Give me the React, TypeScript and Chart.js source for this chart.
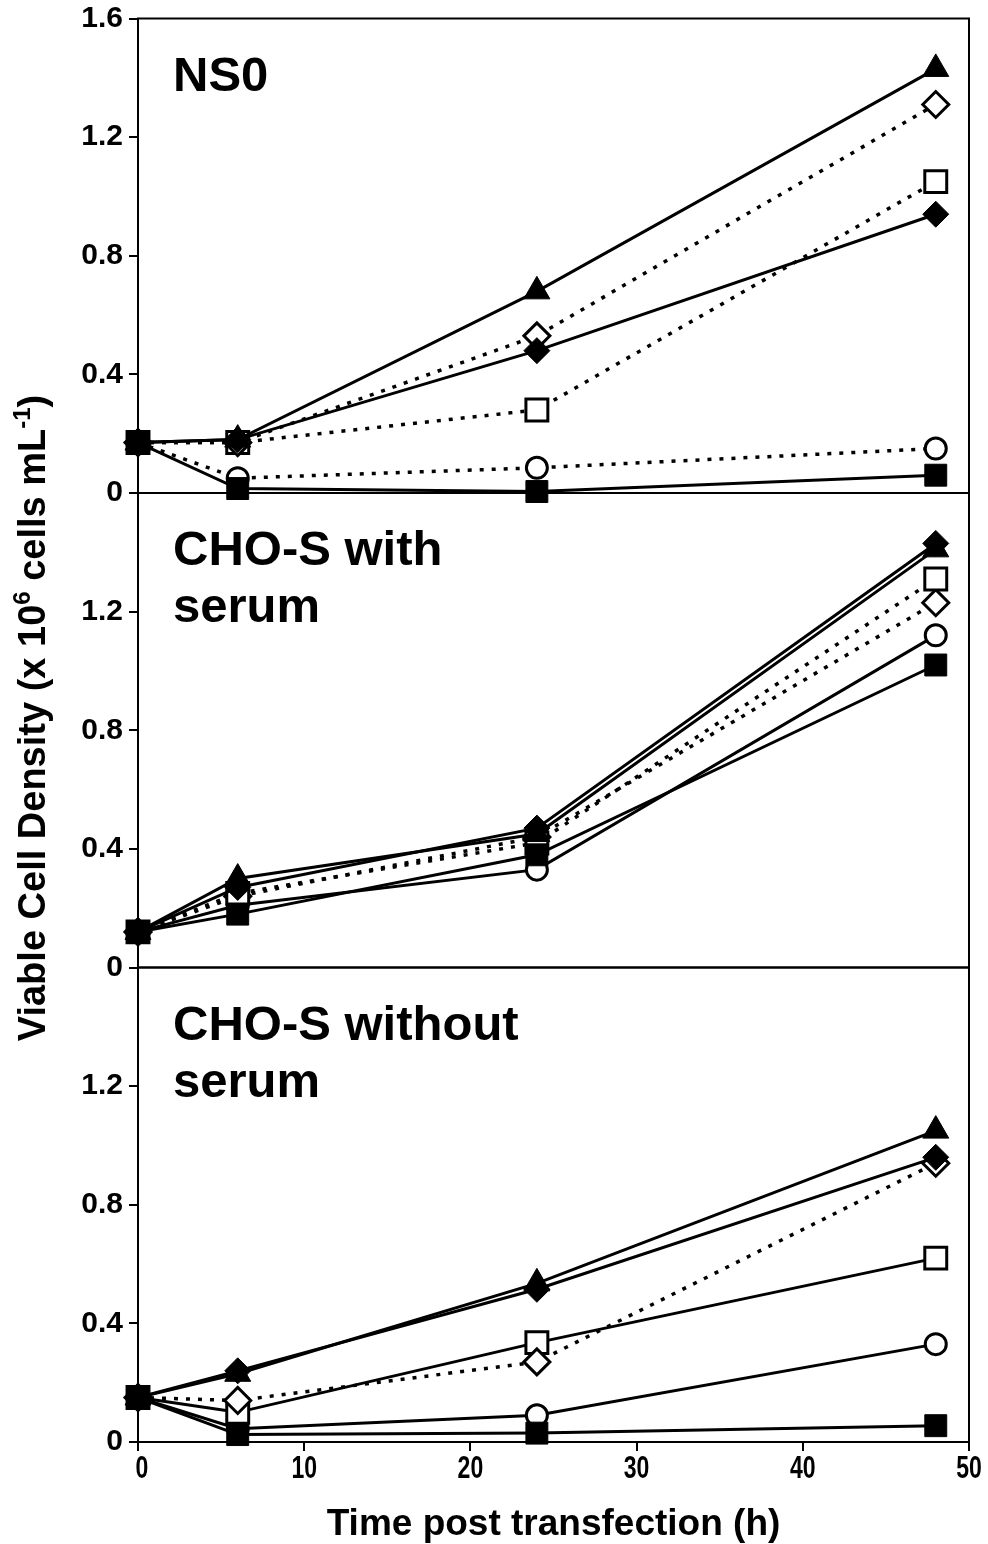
import React, { useEffect, useRef } from 'react';
import { Chart, registerables } from 'chart.js';

Chart.register(...registerables);

// Sampling times (hours after transfection)
const TIME_H = [0, 6, 24, 48];
const X_TICKS = [0, 10, 20, 30, 40, 50];
const Y_TICKS = [0, 0.4, 0.8, 1.2, 1.6];

const PANEL_TITLES = [['NS0'], ['CHO-S with', 'serum'], ['CHO-S without', 'serum']];
const X_TITLE = 'Time post transfection (h)';
const Y_TITLE_PARTS = [
  { text: 'Viable Cell Density (x 10', sup: false },
  { text: '6', sup: true },
  { text: ' cells mL', sup: false },
  { text: '-1', sup: true },
  { text: ')', sup: false },
];

// NS0 (x 10^6 cells/mL)
const NS0_FILLED_TRIANGLE = [0.17, 0.18, 0.68, 1.43];
const NS0_OPEN_DIAMOND = [0.17, 0.17, 0.53, 1.31];
const NS0_OPEN_SQUARE = [0.17, 0.17, 0.28, 1.05];
const NS0_FILLED_DIAMOND = [0.17, 0.18, 0.48, 0.94];
const NS0_OPEN_CIRCLE = [0.17, 0.05, 0.085, 0.15];
const NS0_FILLED_SQUARE = [0.17, 0.015, 0.005, 0.06];

// CHO-S with serum
const SERUM_FILLED_TRIANGLE = [0.12, 0.3, 0.45, 1.41];
const SERUM_FILLED_DIAMOND = [0.12, 0.27, 0.47, 1.43];
const SERUM_OPEN_SQUARE = [0.12, 0.25, 0.42, 1.31];
const SERUM_OPEN_DIAMOND = [0.12, 0.24, 0.44, 1.23];
const SERUM_OPEN_CIRCLE = [0.12, 0.21, 0.33, 1.12];
const SERUM_FILLED_SQUARE = [0.12, 0.18, 0.38, 1.02];

// CHO-S without serum
const NOSERUM_FILLED_TRIANGLE = [0.15, 0.23, 0.535, 1.05];
const NOSERUM_FILLED_DIAMOND = [0.15, 0.24, 0.515, 0.96];
const NOSERUM_OPEN_DIAMOND = [0.15, 0.14, 0.27, 0.94];
const NOSERUM_OPEN_SQUARE = [0.15, 0.1, 0.335, 0.62];
const NOSERUM_OPEN_CIRCLE = [0.15, 0.045, 0.09, 0.33];
const NOSERUM_FILLED_SQUARE = [0.15, 0.025, 0.03, 0.055];

type Marker = 'triangle' | 'rectRot' | 'rect' | 'circle';
type Series = { values: number[]; marker: Marker; filled: boolean; dotted: boolean };

const PANELS: { axis: string; series: Series[] }[] = [
  {
    axis: 'yNS0',
    series: [
      { values: NS0_FILLED_TRIANGLE, marker: 'triangle', filled: true, dotted: false },
      { values: NS0_OPEN_DIAMOND, marker: 'rectRot', filled: false, dotted: true },
      { values: NS0_OPEN_SQUARE, marker: 'rect', filled: false, dotted: true },
      { values: NS0_FILLED_DIAMOND, marker: 'rectRot', filled: true, dotted: false },
      { values: NS0_OPEN_CIRCLE, marker: 'circle', filled: false, dotted: true },
      { values: NS0_FILLED_SQUARE, marker: 'rect', filled: true, dotted: false },
    ],
  },
  {
    axis: 'ySerum',
    series: [
      { values: SERUM_FILLED_DIAMOND, marker: 'rectRot', filled: true, dotted: false },
      { values: SERUM_FILLED_TRIANGLE, marker: 'triangle', filled: true, dotted: false },
      { values: SERUM_OPEN_SQUARE, marker: 'rect', filled: false, dotted: true },
      { values: SERUM_OPEN_DIAMOND, marker: 'rectRot', filled: false, dotted: true },
      { values: SERUM_OPEN_CIRCLE, marker: 'circle', filled: false, dotted: false },
      { values: SERUM_FILLED_SQUARE, marker: 'rect', filled: true, dotted: false },
    ],
  },
  {
    axis: 'yNoSerum',
    series: [
      { values: NOSERUM_FILLED_TRIANGLE, marker: 'triangle', filled: true, dotted: false },
      { values: NOSERUM_FILLED_DIAMOND, marker: 'rectRot', filled: true, dotted: false },
      { values: NOSERUM_OPEN_DIAMOND, marker: 'rectRot', filled: false, dotted: true },
      { values: NOSERUM_OPEN_SQUARE, marker: 'rect', filled: false, dotted: false },
      { values: NOSERUM_OPEN_CIRCLE, marker: 'circle', filled: false, dotted: false },
      { values: NOSERUM_FILLED_SQUARE, marker: 'rect', filled: true, dotted: false },
    ],
  },
];

const FONT = "'Liberation Sans', Arial, Helvetica, sans-serif";

const MARKER_RADIUS: Record<Marker, number> = { triangle: 15, rectRot: 13, rect: 15.5, circle: 10.5 };

// Filled markers sit on top of open ones; filled squares topmost.
function drawOrder(s: Series) {
  if (s.filled && s.marker === 'rect') return 0;
  if (s.filled && s.marker === 'triangle') return 1;
  if (s.filled) return 2;
  return 3;
}

function buildDatasets() {
  const sets: any[] = [];
  PANELS.forEach((panel) => {
    panel.series.forEach((s) => {
      sets.push({
        data: TIME_H.map((t, i) => ({ x: t, y: s.values[i] })),
        yAxisID: panel.axis,
        order: drawOrder(s),
        borderColor: '#000',
        borderWidth: s.dotted ? 3.5 : 3,
        borderDash: s.dotted ? [4, 8] : [],
        pointStyle: s.marker,
        pointRadius: MARKER_RADIUS[s.marker],
        pointBackgroundColor: s.filled ? '#000' : '#fff',
        pointBorderColor: '#000',
        pointBorderWidth: s.filled ? 1 : 3,
        tension: 0,
        clip: false,
      });
    });
  });
  return sets;
}

function yScale(weight: number, showTop: boolean) {
  return {
    type: 'linear',
    position: 'left',
    stack: 'panels',
    stackWeight: 1,
    weight,
    min: 0,
    max: 1.6,
    afterFit: (s: any) => {
      s.width = 80;
      s.paddingTop = 0;
      s.paddingBottom = 0;
    },
    afterBuildTicks: (s: any) => {
      s.ticks = Y_TICKS.map((v) => ({ value: v }));
    },
    ticks: {
      color: '#000',
      padding: 6,
      font: { family: FONT, size: 30, weight: 'bold' },
      callback: (v: any) => {
        const n = Number(v);
        if (n === 1.6 && !showTop) return '';
        return n === 0 ? '0' : n.toFixed(1);
      },
    },
    grid: { drawOnChartArea: false, drawTicks: true, tickLength: 9, color: '#000', lineWidth: 2 },
    border: { display: true, color: '#000', width: 2 },
  };
}

const framePlugin = {
  id: 'panelFrames',
  beforeDatasetsDraw(chart: any) {
    const { ctx, chartArea } = chart;
    ctx.save();
    ctx.strokeStyle = '#000';
    ctx.lineWidth = 2;
    PANELS.forEach((p) => {
      const sc = chart.scales[p.axis];
      ctx.strokeRect(chartArea.left, sc.top, chartArea.right - chartArea.left, sc.bottom - sc.top);
    });
    ctx.restore();
  },
  afterDraw(chart: any) {
    const { ctx, chartArea } = chart;
    ctx.save();
    ctx.fillStyle = '#000';
    ctx.textAlign = 'left';
    ctx.textBaseline = 'alphabetic';

    // Panel names
    ctx.font = `bold 49px ${FONT}`;
    PANELS.forEach((p, i) => {
      const sc = chart.scales[p.axis];
      PANEL_TITLES[i].forEach((line, j) => {
        ctx.fillText(line, chartArea.left + 35, sc.top + 72 + j * 57);
      });
    });

    // X tick labels (condensed bold digits)
    const xs = chart.scales.x;
    ctx.font = `bold 32px ${FONT}`;
    ctx.textAlign = 'center';
    ctx.textBaseline = 'middle';
    X_TICKS.forEach((v) => {
      ctx.save();
      ctx.translate(xs.getPixelForValue(v) + (v === 0 ? 4 : 0), chartArea.bottom + 27);
      ctx.scale(0.72, 1);
      ctx.fillText(String(v), 0, 0);
      ctx.restore();
    });

    // X-axis title
    ctx.textBaseline = 'alphabetic';
    ctx.font = `bold 37px ${FONT}`;
    ctx.fillText(X_TITLE, (chartArea.left + chartArea.right) / 2, 1535);

    // Y-axis title with superscripts
    const mainFont = `bold 38px ${FONT}`;
    const supFont = `bold 24px ${FONT}`;
    let total = 0;
    const widths = Y_TITLE_PARTS.map((p) => {
      ctx.font = p.sup ? supFont : mainFont;
      const w = ctx.measureText(p.text).width;
      total += w;
      return w;
    });
    ctx.translate(45, 718);
    ctx.rotate(-Math.PI / 2);
    ctx.textAlign = 'left';
    let x = -total / 2;
    Y_TITLE_PARTS.forEach((p, i) => {
      ctx.font = p.sup ? supFont : mainFont;
      ctx.fillText(p.text, x, p.sup ? -15 : 0);
      x += widths[i];
    });
    ctx.restore();
  },
};

export default function App() {
  const ref = useRef<HTMLCanvasElement>(null);

  useEffect(() => {
    const canvas = ref.current;
    if (!canvas) return;
    const chart = new Chart(canvas, {
      type: 'line',
      data: { datasets: buildDatasets() },
      options: {
        responsive: false,
        animation: false,
        devicePixelRatio: 1,
        layout: { padding: { top: 15, right: 19, left: 58, bottom: 0 } },
        plugins: { legend: { display: false }, tooltip: { enabled: false } },
        scales: {
          x: {
            type: 'linear',
            min: 0,
            max: 50,
            afterFit: (s: any) => {
              s.height = 102;
              s.paddingLeft = 0;
              s.paddingRight = 0;
            },
            afterBuildTicks: (s: any) => {
              s.ticks = X_TICKS.map((v) => ({ value: v }));
            },
            ticks: { display: false },
            grid: { drawOnChartArea: false, drawTicks: true, tickLength: 9, color: '#000', lineWidth: 2 },
            border: { display: true, color: '#000', width: 2 },
          },
          yNS0: yScale(3, true),
          ySerum: yScale(2, false),
          yNoSerum: yScale(1, false),
        } as any,
      },
      plugins: [framePlugin],
    } as any);
    return () => chart.destroy();
  }, []);

  return (
    <div style={{ position: 'absolute', left: 0, top: 0, width: 988, height: 1544, background: '#fff' }}>
      <canvas ref={ref} width={988} height={1544} style={{ display: 'block', width: 988, height: 1544 }} />
    </div>
  );
}
